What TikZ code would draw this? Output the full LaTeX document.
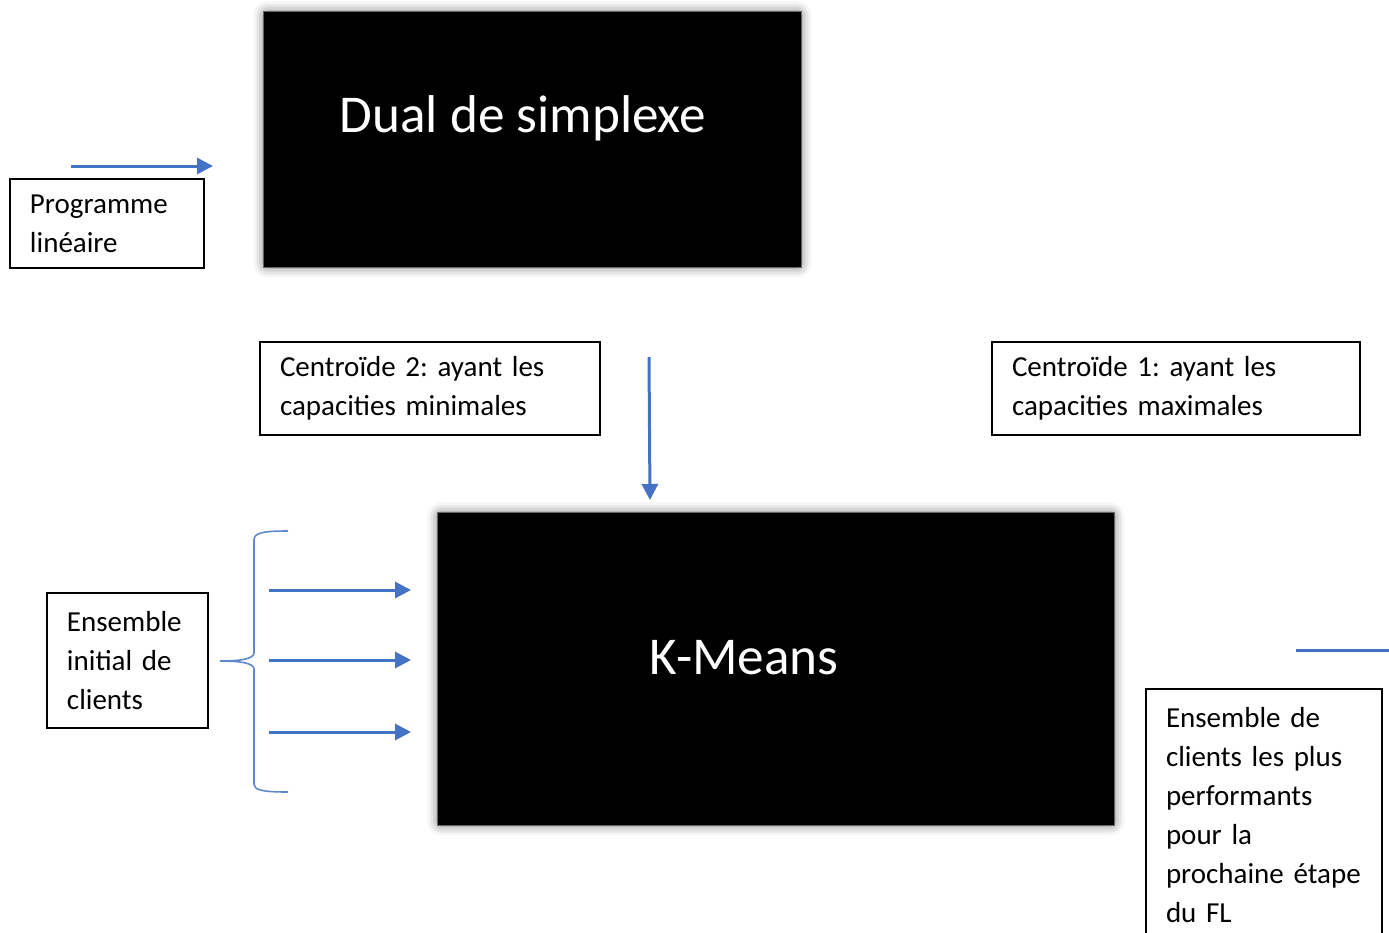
\documentclass[tikz,border=0pt]{standalone}
\usepackage{fontspec}
\setmainfont{Carlito}
\frenchspacing
\usetikzlibrary{arrows.meta,shadows.blur}
\definecolor{flowblue}{HTML}{4472C4}
\tikzset{
  note/.style={draw=black, line width=1pt, anchor=north west, align=left,
    inner xsep=10pt, font=\fontsize{14.5pt}{19.5pt}\selectfont},
  stage/.style={fill=black, draw=black!60, line width=0.4pt, anchor=north west,
    blur shadow={shadow xshift=0pt, shadow yshift=0pt, shadow blur radius=5pt,
      shadow blur extra rounding=2pt, shadow opacity=55}},
  stagetitle/.style={text=white, font=\fontsize{26.6pt}{32pt}\selectfont},
  flow/.style={draw=flowblue, line width=1.5pt,
    -{Triangle[length=8pt, width=8pt]}},
  brace/.style={draw=flowblue!85, line width=0.8pt},
}
\begin{document}
\begin{tikzpicture}[x=0.5pt, y=-0.5pt]
\useasboundingbox (0,0) rectangle (1389,933);
\clip (0,0) rectangle (1389,933);

% processing stages
\node[stage, minimum width=269pt, minimum height=128pt] (dual) at (263,11) {};
\node[stagetitle] (dualtitle) at (523,118) {Dual de simplexe};
\node[stage, minimum width=338.5pt, minimum height=156.5pt] (kmeans) at (437,512) {};
\node[stagetitle] (kmeanstitle) at (744,658) {K-Means};

% text boxes
\node[note, minimum width=97pt, minimum height=44.5pt, text width=77pt] (prog) at (9,178)
  {Programme\\linéaire};
\node[note, minimum width=170pt, minimum height=46.5pt, text width=150pt] (c2) at (259,341)
  {Centroïde 2: ayant les\\capacities minimales};
\node[note, minimum width=184pt, minimum height=46.5pt, text width=164pt] (c1) at (991,341)
  {Centroïde 1: ayant les\\capacities maximales};
\node[note, minimum width=80.5pt, minimum height=67.5pt, text width=60.5pt] (init) at (46,592)
  {Ensemble\\initial de\\clients};
\node[note, minimum width=118pt, text width=98pt, inner ysep=9pt] (perf) at (1145,688)
  {Ensemble de\\clients les plus\\performants\\pour la\\prochaine étape\\du FL};

% connectors
\coordinate (p0) at (71,166);   \coordinate (p1) at (213,166);
\draw[flow] (p0) -- (p1);
\coordinate (d0) at (649,357);  \coordinate (d1) at (650,500);
\draw[flow] (d0) -- (d1);
\foreach \y/\n in {590/a,660/b,732/c}{
  \coordinate (s\n) at (269,\y); \coordinate (t\n) at (411,\y);
  \draw[flow] (s\n) -- (t\n);
}
\coordinate (o0) at (1296,650); \coordinate (o1) at (1395,650);
\draw[draw=flowblue, line width=1.5pt] (o0) -- (o1);

% curly brace grouping the initial clients
\draw[brace] (288,531) .. controls (262,531) and (254,533) .. (254,540)
  -- (254,653) .. controls (254,659) and (240,661) .. (220,661)
  .. controls (240,661) and (254,663) .. (254,669)
  -- (254,784) .. controls (254,790) and (262,792) .. (288,792);
\end{tikzpicture}
\end{document}
